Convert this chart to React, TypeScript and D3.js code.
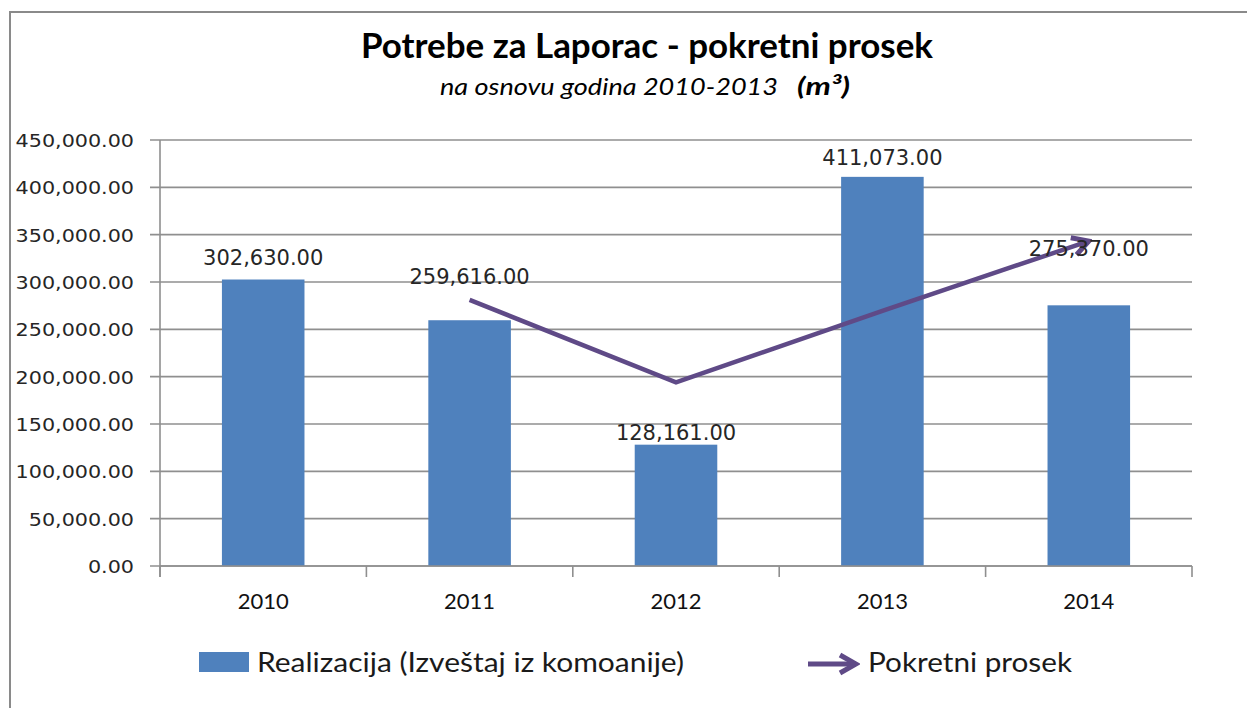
import { useEffect, useRef } from 'react'
import * as d3 from 'd3'

const years = ['2010', '2011', '2012', '2013', '2014']
const realizacija = [302630, 259616, 128161, 411073, 275370]
// moving average, first year has no value
const pokretniProsek: (number | null)[] = [null, 281123, 193888.5, 269617, 343221.5]
const yTicks = [0, 50000, 100000, 150000, 200000, 250000, 300000, 350000, 400000, 450000]
const labelLift = [15, 36, 5, 12, 49]

const BAR = '#4f81bd'
const LINE = '#5f4a87'
const GRID = '#8f8f8f'

export default function App() {
  const svgRef = useRef<SVGSVGElement>(null)

  useEffect(() => {
    if (!svgRef.current) return
    const svg = d3.select(svgRef.current)
    svg.selectAll('*').remove()

    const left = 160, right = 1192, top = 140, bottom = 566

    const x = d3.scaleBand<string>()
      .domain(years)
      .range([left, right])
      .paddingInner(0.6)
      .paddingOuter(0.3)

    const y = d3.scaleLinear().domain([0, 450000]).range([bottom, top])
    const fmt = d3.format(',.2f')

    // frame
    svg.append('path')
      .attr('d', 'M10,708 L10,12 L1247,12')
      .attr('fill', 'none')
      .attr('stroke', '#8a8a8a')
      .attr('stroke-width', 2)

    // title
    svg.append('text')
      .attr('x', 361).attr('y', 58)
      .attr('textLength', 572).attr('lengthAdjust', 'spacingAndGlyphs')
      .style('font-family', 'Lato, sans-serif')
      .style('font-weight', 700)
      .style('font-size', '35px')
      .attr('fill', '#000')
      .text('Potrebe za Laporac - pokretni prosek')

    svg.append('text')
      .attr('x', 440).attr('y', 95)
      .attr('textLength', 338).attr('lengthAdjust', 'spacingAndGlyphs')
      .style('font-family', 'Lato, sans-serif')
      .style('font-style', 'italic')
      .style('font-size', '24px')
      .attr('fill', '#000')
      .text('na osnovu godina 2010-2013')

    svg.append('text')
      .attr('x', 797).attr('y', 95)
      .attr('textLength', 53).attr('lengthAdjust', 'spacingAndGlyphs')
      .style('font-family', 'Lato, sans-serif')
      .style('font-style', 'italic')
      .style('font-weight', 700)
      .style('font-size', '24px')
      .attr('fill', '#000')
      .text('(m³)')

    // gridlines + y ticks
    const gy = svg.append('g')
    gy.selectAll('line.grid')
      .data(yTicks)
      .join('line')
      .attr('x1', left - 10).attr('x2', right)
      .attr('y1', d => y(d)).attr('y2', d => y(d))
      .attr('stroke', GRID)
      .attr('stroke-width', 1.6)

    gy.selectAll('text')
      .data(yTicks)
      .join('text')
      .attr('transform', d => `translate(134,${y(d) + 7}) scale(1.15,1)`)
      .attr('text-anchor', 'end')
      .style('font-family', 'DejaVu Sans, sans-serif')
      .style('font-size', '18px')
      .attr('fill', '#262626')
      .text(d => fmt(d))

    // y axis line
    svg.append('line')
      .attr('x1', left).attr('x2', left)
      .attr('y1', top).attr('y2', bottom + 11)
      .attr('stroke', GRID).attr('stroke-width', 1.6)

    // x axis ticks at category boundaries
    const step = x.step()
    const bounds = d3.range(years.length + 1).map(i => left + i * step)
    svg.append('g').selectAll('line')
      .data(bounds)
      .join('line')
      .attr('x1', d => d).attr('x2', d => d)
      .attr('y1', bottom).attr('y2', bottom + 11)
      .attr('stroke', GRID).attr('stroke-width', 1.6)

    // bars
    svg.append('g').selectAll('rect')
      .data(realizacija)
      .join('rect')
      .attr('x', (_, i) => x(years[i])!)
      .attr('width', x.bandwidth())
      .attr('y', d => y(d))
      .attr('height', d => y(0) - y(d))
      .attr('fill', BAR)

    // x axis line on top of bars
    svg.append('line')
      .attr('x1', left).attr('x2', right)
      .attr('y1', bottom).attr('y2', bottom)
      .attr('stroke', GRID).attr('stroke-width', 1.6)

    svg.append('g').selectAll('text')
      .data(years)
      .join('text')
      .attr('x', d => x(d)! + x.bandwidth() / 2)
      .attr('y', 609)
      .attr('text-anchor', 'middle')
      .style('font-family', 'Lato, sans-serif')
      .style('font-size', '22px')
      .attr('fill', '#111')
      .text(d => d)

    // moving average line with arrow end
    const defs = svg.append('defs')
    defs.append('marker')
      .attr('id', 'arrowEnd')
      .attr('markerUnits', 'userSpaceOnUse')
      .attr('viewBox', '-2 -12 24 24')
      .attr('refX', 18).attr('refY', 0)
      .attr('markerWidth', 24).attr('markerHeight', 24)
      .attr('orient', 'auto')
      .append('path')
      .attr('d', 'M2,-9 L18,0 L2,9')
      .attr('fill', 'none')
      .attr('stroke', LINE)
      .attr('stroke-width', 5)
      .attr('stroke-linejoin', 'miter')

    const pts = pokretniProsek
      .map((v, i) => ({ year: years[i], v }))
      .filter(p => p.v !== null) as { year: string; v: number }[]

    const line = d3.line<{ year: string; v: number }>()
      .x(d => x(d.year)! + x.bandwidth() / 2)
      .y(d => y(d.v))

    svg.append('path')
      .datum(pts)
      .attr('d', line)
      .attr('fill', 'none')
      .attr('stroke', LINE)
      .attr('stroke-width', 4.5)
      .attr('stroke-linejoin', 'miter')
      .attr('marker-end', 'url(#arrowEnd)')

    // data labels
    svg.append('g').selectAll('text')
      .data(realizacija)
      .join('text')
      .attr('x', (_, i) => x(years[i])! + x.bandwidth() / 2)
      .attr('y', (d, i) => y(d) - labelLift[i])
      .attr('text-anchor', 'middle')
      .style('font-family', 'DejaVu Sans, sans-serif')
      .style('font-size', '21px')
      .attr('fill', '#262626')
      .text(d => fmt(d))

    // legend
    const lg = svg.append('g')
    lg.append('rect')
      .attr('x', 199).attr('y', 652)
      .attr('width', 50).attr('height', 20)
      .attr('fill', BAR)
    lg.append('text')
      .attr('x', 257).attr('y', 672)
      .attr('textLength', 427).attr('lengthAdjust', 'spacingAndGlyphs')
      .style('font-family', 'Lato, sans-serif')
      .style('font-size', '27px')
      .attr('fill', '#1a1a1a')
      .text('Realizacija (Izveštaj iz komoanije)')

    lg.append('line')
      .attr('x1', 808).attr('x2', 856)
      .attr('y1', 664).attr('y2', 664)
      .attr('stroke', LINE)
      .attr('stroke-width', 5)
      .attr('marker-end', 'url(#arrowEnd)')
    lg.append('text')
      .attr('x', 868).attr('y', 672)
      .attr('textLength', 204).attr('lengthAdjust', 'spacingAndGlyphs')
      .style('font-family', 'Lato, sans-serif')
      .style('font-size', '27px')
      .attr('fill', '#1a1a1a')
      .text('Pokretni prosek')
  }, [])

  return (
    <div style={{ position: 'absolute', left: 0, top: 0 }}>
      <svg ref={svgRef} width={1247} height={708} style={{ display: 'block', background: '#fff' }}></svg>
    </div>
  )
}
